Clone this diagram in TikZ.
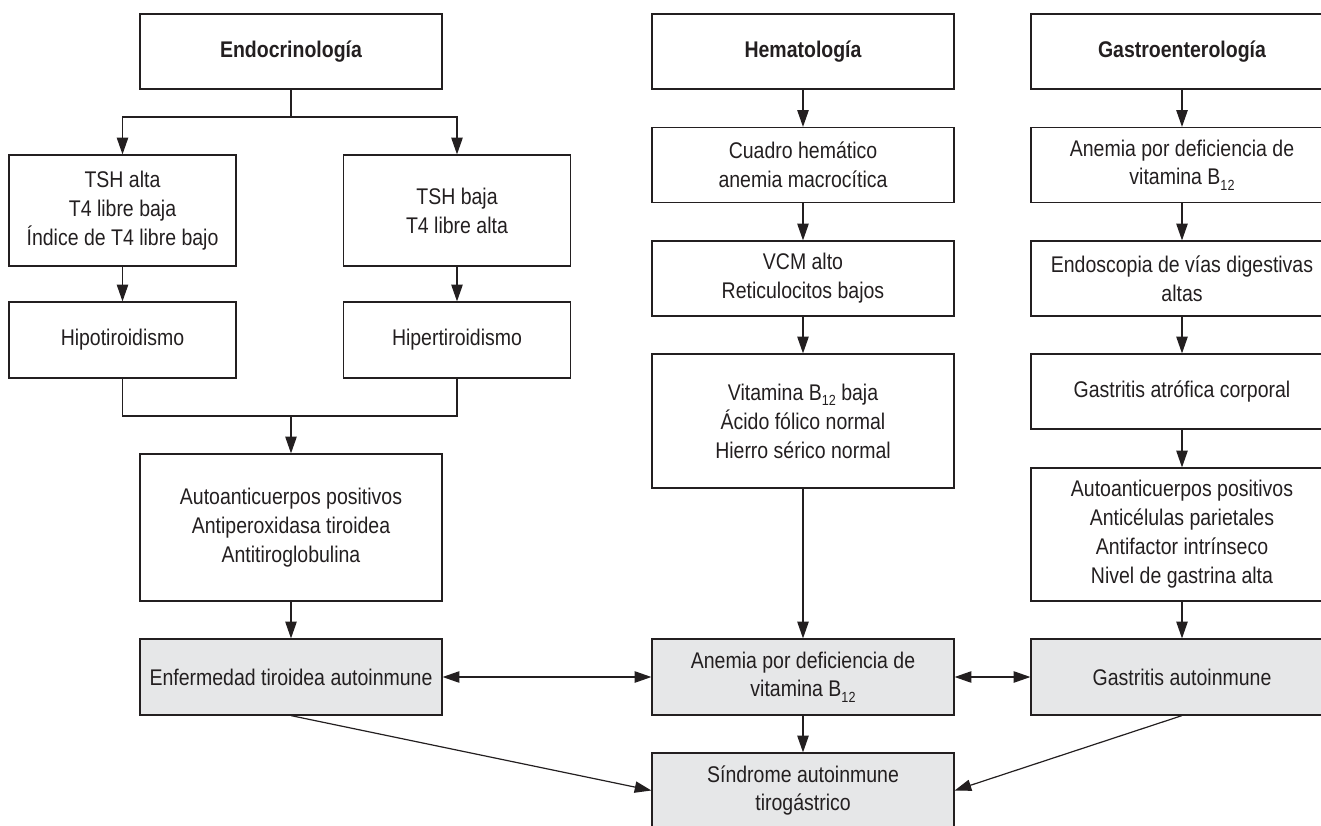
\documentclass[tikz,border=0pt]{standalone}
\usepackage{fontspec}
\setmainfont{Liberation Sans}[FakeStretch=0.86]
\usepackage{xcolor}
\usepackage{tikz}
\usetikzlibrary{arrows.meta,positioning}

\definecolor{tinta}{RGB}{35,31,32}
\definecolor{grisfondo}{RGB}{230,231,232}
\tikzset{
  caja/.style={draw=tinta, line width=0.9pt, text=tinta, align=center, inner sep=2pt,
    font=\fontsize{17}{21.7}\selectfont, minimum width=226.5pt, minimum height=56.25pt},
  cajachica/.style={caja, minimum width=170.25pt},
  cajagris/.style={caja, fill=grisfondo},
  linea/.style={draw=tinta, line width=0.9pt},
  flecha/.style={linea, -{Triangle[length=12.5pt,width=8.5pt]}},
  dobleflecha/.style={linea, {Triangle[length=12.5pt,width=8.5pt]}-{Triangle[length=12.5pt,width=8.5pt]}}
}
\newcommand{\bdoce}{B\raisebox{-0.45ex}{\fontsize{11}{11}\selectfont 12}}

\begin{document}
\begin{tikzpicture}[x=0.75pt,y=0.75pt,yscale=-1,xscale=1]
\useasboundingbox (0,0) rectangle (1321,825);
\clip (0,0) rectangle (1321,825);

% Endocrinologia
\node [caja, font=\fontsize{17}{21.7}\selectfont\bfseries] (endo) at (291,51.5) {Endocrinología};
\node [cajachica, minimum height=83.25pt] (tshalta) at (122.5,210.5) {TSH alta\\T4 libre baja\\Índice de T4 libre bajo};
\node [cajachica, minimum height=83.25pt] (tshbaja) at (457,210.5) {TSH baja\\T4 libre alta};
\node [cajachica, minimum height=57pt] (hipo) at (122.5,340) {Hipotiroidismo};
\node [cajachica, minimum height=57pt] (hiper) at (457,340) {Hipertiroidismo};
\node [caja, minimum height=110.25pt] (autoend) at (291,527.5) {Autoanticuerpos positivos\\Antiperoxidasa tiroidea\\Antitiroglobulina};
\node [cajagris, minimum height=57pt] (enfer) at (291,677) {Enfermedad tiroidea autoinmune};

% Hematologia
\node [caja, font=\fontsize{17}{21.7}\selectfont\bfseries] (hema) at (803,51.5) {Hematología};
\node [caja] (cuadro) at (803,165) {Cuadro hemático\\anemia macrocítica};
\node [caja] (vcm) at (803,278.5) {VCM alto\\Reticulocitos bajos};
\node [caja, minimum height=100.5pt] (vitb) at (803,421) {Vitamina \bdoce{} baja\\Ácido fólico normal\\Hierro sérico normal};
\node [cajagris, minimum height=57pt] (anemia) at (803,677) {Anemia por deficiencia de\\vitamina \bdoce};
\node [cajagris] (sindrome) at (803,790.5) {Síndrome autoinmune\\tirogástrico};

% Gastroenterologia
\node [caja, font=\fontsize{17}{21.7}\selectfont\bfseries] (gastro) at (1182,51.5) {Gastroenterología};
\node [caja] (anemiag) at (1182,165) {Anemia por deficiencia de\\vitamina \bdoce};
\node [caja] (endosc) at (1182,278.5) {Endoscopia de vías digestivas\\altas};
\node [caja] (atrof) at (1182,391.5) {Gastritis atrófica corporal};
\node [caja, minimum height=99.75pt] (autogas) at (1182,534.5) {Autoanticuerpos positivos\\Anticélulas parietales\\Antifactor intrínseco\\Nivel de gastrina alta};
\node [cajagris, minimum height=57pt] (gastau) at (1182,677) {Gastritis autoinmune};

%Straight Lines
\coordinate (rama) at (291,117);
\coordinate (union) at (291,416);
\draw [linea] (endo) -- (rama);
\draw [flecha] (rama) -| (tshalta);
\draw [flecha] (rama) -| (tshbaja);
\draw [flecha] (tshalta) -- (hipo);
\draw [flecha] (tshbaja) -- (hiper);
\draw [linea] (hipo) |- (union);
\draw [linea] (hiper) |- (union);
\draw [flecha] (union) -- (autoend);
\draw [flecha] (autoend) -- (enfer);

\draw [flecha] (hema) -- (cuadro);
\draw [flecha] (cuadro) -- (vcm);
\draw [flecha] (vcm) -- (vitb);
\draw [flecha] (vitb) -- (anemia);
\draw [flecha] (anemia) -- (sindrome);

\draw [flecha] (gastro) -- (anemiag);
\draw [flecha] (anemiag) -- (endosc);
\draw [flecha] (endosc) -- (atrof);
\draw [flecha] (atrof) -- (autogas);
\draw [flecha] (autogas) -- (gastau);

\draw [dobleflecha] (enfer) -- (anemia);
\draw [dobleflecha] (anemia) -- (gastau);
\draw [flecha] (enfer.south) -- (sindrome.west);
\draw [flecha] (gastau.south) -- (sindrome.east);
\end{tikzpicture}
\end{document}
